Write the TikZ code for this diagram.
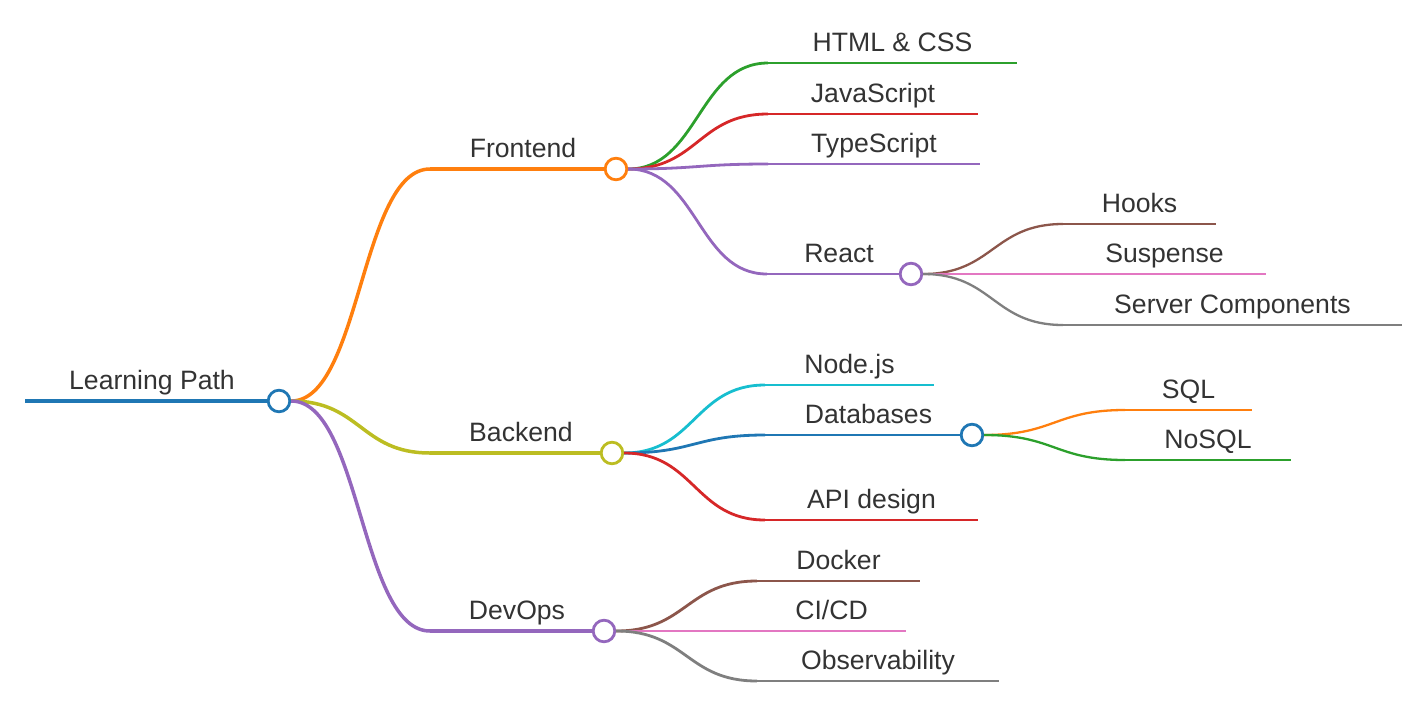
\documentclass[tikz,border=0pt]{standalone}
\usepackage{fontspec}
\setmainfont{Liberation Sans}
\usetikzlibrary{calc}
\definecolor{cBlue}{HTML}{1F77B4}
\definecolor{cOrange}{HTML}{FF7F0E}
\definecolor{cGreen}{HTML}{2CA02C}
\definecolor{cRed}{HTML}{D62728}
\definecolor{cPurple}{HTML}{9467BD}
\definecolor{cBrown}{HTML}{8C564B}
\definecolor{cPink}{HTML}{E377C2}
\definecolor{cGray}{HTML}{7F7F7F}
\definecolor{cOlive}{HTML}{BCBD22}
\definecolor{cCyan}{HTML}{17BECF}
\definecolor{cText}{HTML}{333333}
\newcommand\mmlink[3]{\draw[#1] let \p1=(#2), \p2=(#3) in (\p1) .. controls ({(\x1+\x2)/2},\y1) and ({(\x1+\x2)/2},\y2) .. (\p2);}
\tikzset{
  lbl/.style={anchor=base, text=cText, inner sep=0pt, yshift=-1.3pt, font=\fontsize{26.6}{32}\selectfont},
  mmcirc/.style={circle, draw=#1, fill=white, line width=2.8pt, inner sep=0pt, minimum size=21.6pt},
  lv0/.style={draw=#1, line width=4.3pt},
  lv1/.style={draw=#1, line width=3.5pt},
  lv2/.style={draw=#1, line width=2.8pt},
  lv3/.style={draw=#1, line width=2.3pt},
}
\begin{document}
\begin{tikzpicture}[x=1pt,y=-1pt]
\useasboundingbox (0,0) rectangle (1425,705);
% coordinates: line starts and ends
\coordinate (sR) at (25,401);
\coordinate (sF) at (430,169);
\coordinate (sB) at (430,453);
\coordinate (sD) at (430,631);
\coordinate (sHtml) at (768,63);   \coordinate (eHtml) at (1017,63);
\coordinate (sJs) at (768,114);    \coordinate (eJs) at (978,114);
\coordinate (sTs) at (768,164);    \coordinate (eTs) at (980,164);
\coordinate (sRe) at (767,274);
\coordinate (sHk) at (1063,224);   \coordinate (eHk) at (1216,224);
\coordinate (sSu) at (1063,274);   \coordinate (eSu) at (1266,274);
\coordinate (sSc) at (1063,325);   \coordinate (eSc) at (1402,325);
\coordinate (sNj) at (765,385);    \coordinate (eNj) at (934,385);
\coordinate (sDb) at (765,435);
\coordinate (sSql) at (1125,410);  \coordinate (eSql) at (1252,410);
\coordinate (sNo) at (1125,460);   \coordinate (eNo) at (1291,460);
\coordinate (sApi) at (765,520);   \coordinate (eApi) at (978,520);
\coordinate (sDk) at (757,581);    \coordinate (eDk) at (920,581);
\coordinate (sCi) at (757,631);    \coordinate (eCi) at (906,631);
\coordinate (sOb) at (757,681);    \coordinate (eOb) at (999,681);
% circle positions
\coordinate (pR) at (279,401);
\coordinate (pF) at (616,169);
\coordinate (pB) at (612,453);
\coordinate (pD) at (604,631);
\coordinate (pRe) at (911,274);
\coordinate (pDb) at (972,435);
% horizontal lines
\draw[lv0=cBlue] (sR) -- (pR);
\draw[lv1=cOrange] (sF) -- (pF);
\draw[lv1=cOlive] (sB) -- (pB);
\draw[lv1=cPurple] (sD) -- (pD);
\draw[lv2=cGreen] (sHtml) -- (eHtml);
\draw[lv2=cRed] (sJs) -- (eJs);
\draw[lv2=cPurple] (sTs) -- (eTs);
\draw[lv2=cPurple] (sRe) -- (pRe);
\draw[lv3=cBrown] (sHk) -- (eHk);
\draw[lv3=cPink] (sSu) -- (eSu);
\draw[lv3=cGray] (sSc) -- (eSc);
\draw[lv2=cCyan] (sNj) -- (eNj);
\draw[lv2=cBlue] (sDb) -- (pDb);
\draw[lv3=cOrange] (sSql) -- (eSql);
\draw[lv3=cGreen] (sNo) -- (eNo);
\draw[lv2=cRed] (sApi) -- (eApi);
\draw[lv2=cBrown] (sDk) -- (eDk);
\draw[lv2=cPink] (sCi) -- (eCi);
\draw[lv2=cGray] (sOb) -- (eOb);
% circles
\node[mmcirc=cBlue] (R) at (pR) {};
\node[mmcirc=cOrange] (F) at (pF) {};
\node[mmcirc=cOlive] (B) at (pB) {};
\node[mmcirc=cPurple] (D) at (pD) {};
\node[mmcirc=cPurple] (Re) at (pRe) {};
\node[mmcirc=cBlue] (Db) at (pDb) {};
% links
\mmlink{lv1=cOrange}{R.east}{sF}
\mmlink{lv1=cOlive}{R.east}{sB}
\mmlink{lv1=cPurple}{R.east}{sD}
\mmlink{lv2=cGreen}{F.east}{sHtml}
\mmlink{lv2=cRed}{F.east}{sJs}
\mmlink{lv2=cPurple}{F.east}{sTs}
\mmlink{lv2=cPurple}{F.east}{sRe}
\mmlink{lv3=cBrown}{Re.east}{sHk}
\mmlink{lv3=cPink}{Re.east}{sSu}
\mmlink{lv3=cGray}{Re.east}{sSc}
\mmlink{lv2=cCyan}{B.east}{sNj}
\mmlink{lv2=cBlue}{B.east}{sDb}
\mmlink{lv2=cRed}{B.east}{sApi}
\mmlink{lv3=cOrange}{Db.east}{sSql}
\mmlink{lv3=cGreen}{Db.east}{sNo}
\mmlink{lv2=cBrown}{D.east}{sDk}
\mmlink{lv2=cPink}{D.east}{sCi}
\mmlink{lv2=cGray}{D.east}{sOb}
% labels
\node[lbl] (tR) at (152,387.7) {Learning Path};
\node[lbl] (tF) at (523,155.7) {Frontend};
\node[lbl] (tB) at (521,439.7) {Backend};
\node[lbl] (tD) at (517,617.7) {DevOps};
\node[lbl] (tHtml) at (892.5,49.7) {HTML \& CSS};
\node[lbl] (tJs) at (873,100.7) {JavaScript};
\node[lbl] (tTs) at (874,150.7) {TypeScript};
\node[lbl] (tRe) at (839,260.7) {React};
\node[lbl] (tHk) at (1139.5,210.7) {Hooks};
\node[lbl] (tSu) at (1164.5,260.7) {Suspense};
\node[lbl] (tSc) at (1232.5,311.7) {Server Components};
\node[lbl] (tNj) at (849.5,371.7) {Node.js};
\node[lbl] (tDb) at (868.5,421.7) {Databases};
\node[lbl] (tSql) at (1188.5,396.7) {SQL};
\node[lbl] (tNo) at (1208,446.7) {NoSQL};
\node[lbl] (tApi) at (871.5,506.7) {API design};
\node[lbl] (tDk) at (838.5,567.7) {Docker};
\node[lbl] (tCi) at (831.5,617.7) {CI/CD};
\node[lbl] (tOb) at (878,667.7) {Observability};
\end{tikzpicture}
\end{document}
